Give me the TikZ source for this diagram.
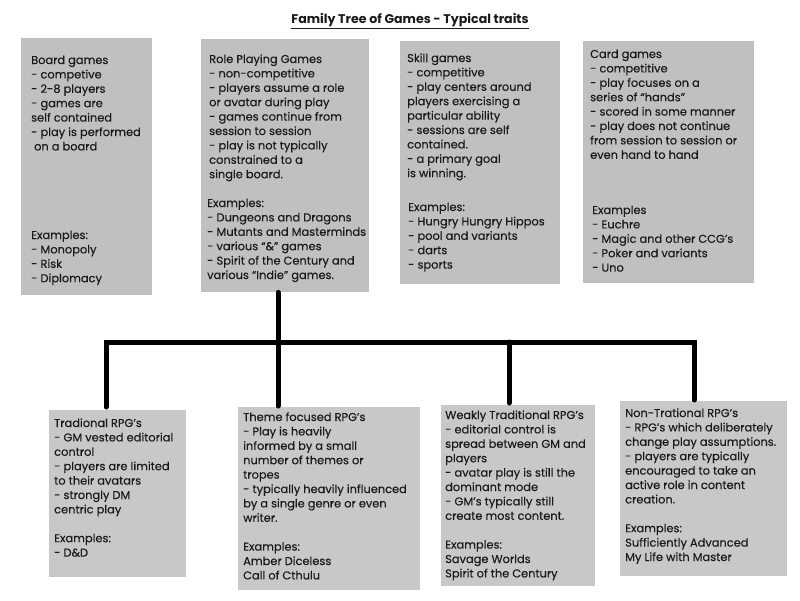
\documentclass[tikz,border=0pt]{standalone}
\usepackage{fontspec}
\setmainfont{Poppins}
\newfontfamily\bodyfont{Poppins}[FakeBold=0.25]
\usetikzlibrary{calc}
\newcommand{\tl}[1]{\begin{tabular}[t]{@{}l@{}}#1\end{tabular}}
\begin{document}
\begin{tikzpicture}[x=1pt,y=-1pt,
  topbox/.style={draw=none,fill=topgray,rectangle,anchor=north west,inner sep=0pt},
  botbox/.style={draw=none,fill=botgray,rectangle,anchor=north west,inner sep=0pt},
  txt/.style={anchor=base west,inner sep=0pt,font=\bodyfont\fontsize{11.4}{14.4}\selectfont,text=textcol},
  conn/.style={line width=5pt,draw=black,line cap=round,line join=miter},
  ttl/.style={anchor=base,inner sep=0pt,font=\fontsize{12.6}{14}\selectfont\bfseries,text=textcol}]
\definecolor{topgray}{HTML}{C0C0C0}
\definecolor{botgray}{HTML}{C8C8C8}
\definecolor{textcol}{HTML}{1A1A1A}
\useasboundingbox[fill=white] (0,0) rectangle (800,600);

\node[ttl] (title) at (410,23) {\underline{Family Tree of Games - Typical traits}};

% top row
\node[topbox,minimum width=131pt,minimum height=257pt] (board) at (21,38) {};
\node[topbox,minimum width=168pt,minimum height=253pt] (rpg) at (201,39) {};
\node[topbox,minimum width=160pt,minimum height=243pt] (skill) at (400,41) {};
\node[topbox,minimum width=171pt,minimum height=242pt] (card) at (583,41) {};

% bottom row
\node[botbox,minimum width=137pt,minimum height=167pt] (trad) at (49,410) {};
\node[botbox,minimum width=182pt,minimum height=183pt] (theme) at (238,407) {};
\node[botbox,minimum width=154pt,minimum height=181pt] (weak) at (441,405) {};
\node[botbox,minimum width=167pt,minimum height=175pt] (nontrad) at (620,401) {};

% texts
\node[txt] (boardtxt) at (31,64) {\tl{Board games\\- competive\\- 2-8 players\\- games are\\self contained\\- play is performed\\\hspace{3pt}on a board}};
\node[txt] (boardex) at (31,239) {\tl{Examples:\\- Monopoly\\- Risk\\- Diplomacy}};

\node[txt] (rpgtxt) at (209,63) {\tl{Role Playing Games\\- non-competitive\\- players assume a role\\or avatar during play\\- games continue from\\session to session\\- play is not typically\\constrained to a\\single board.}};
\node[txt] (rpgex) at (207,207) {\tl{Examples:\\- Dungeons and Dragons\\- Mutants and Masterminds\\- various “\&” games\\- Spirit of the Century and\\various “Indie” games.}};

\node[txt] (skilltxt) at (407,62) {\tl{Skill games\\- competitive\\- play centers around\\players exercising a\\particular ability\\- sessions are self\\contained.\\- a primary goal\\is winning.}};
\node[txt] (skillex) at (408,211) {\tl{Examples:\\- Hungry Hungry Hippos\\- pool and variants\\- darts\\- sports}};

\node[txt] (cardtxt) at (590,58) {\tl{Card games\\- competitive\\- play focuses on a\\series of “hands”\\- scored in some manner\\- play does not continue\\from session to session or\\even hand to hand}};
\node[txt] (cardex) at (592,214) {\tl{Examples\\- Euchre\\- Magic and other CCG’s\\- Poker and variants\\- Uno}};

\node[txt] (tradtxt) at (54,427) {\tl{Tradional RPG’s\\- GM vested editorial\\control\\- players are limited\\to their avatars\\- strongly DM\\centric play\\ \\Examples:\\- D\&D}};

\node[txt] (themetxt) at (243,421) {\tl{Theme focused RPG’s\\- Play is heavily\\informed by a small\\number of themes or\\tropes\\- typically heavily influenced\\by a single genre or even\\writer.\\ \\Examples:\\Amber Diceless\\Call of Cthulu}};

\node[txt] (weaktxt) at (445,419) {\tl{Weakly Traditional RPG’s\\- editorial control is\\spread between GM and\\players\\- avatar play is still the\\dominant mode\\- GM’s typically still\\create most content.\\ \\Examples:\\Savage Worlds\\Spirit of the Century}};

\node[txt] (nontradtxt) at (625,417) {\tl{Non-Trational RPG’s\\- RPG’s which deliberately\\change play assumptions.\\- players are typically\\encouraged to take an\\active role in content\\creation.\\ \\Examples:\\Sufficiently Advanced\\My Life with Master}};

% connectors
\coordinate (hub) at (278,342);
\coordinate (tradtop) at ([xshift=57pt,yshift=3pt]trad.north west);
\coordinate (themetop) at ([yshift=1pt]theme.north -| hub);
\coordinate (weaktop) at ([xshift=68pt,yshift=2pt]weak.north west);
\coordinate (nontradtop) at ([xshift=74pt,yshift=1pt]nontrad.north west);
\draw[conn] (rpg.south -| hub) -- (hub);
\draw[conn] (tradtop) |- (hub) -| (nontradtop);
\draw[conn] (hub) -- (themetop);
\draw[conn] (hub -| weaktop) -- (weaktop);
\end{tikzpicture}
\end{document}
